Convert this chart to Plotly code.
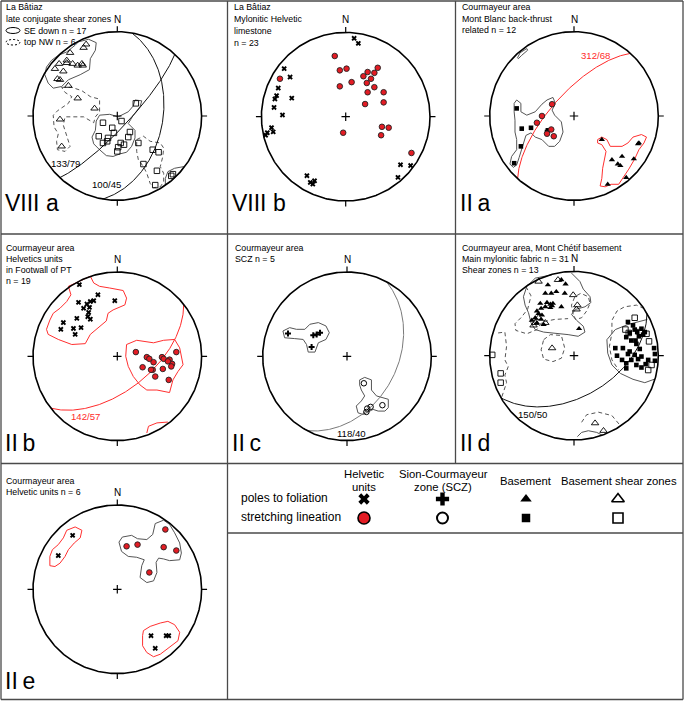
import numpy as np
import plotly.graph_objects as go

W, H = 685, 701
FONT = "Liberation Sans, Arial, Helvetica, sans-serif"

# ---------------- DATA: equal-area lower-hemisphere net, (east, north) on unit primitive ----------------
# Panel VIII a  (La Bâtiaz, late conjugate shear zones)
VIIIA_OTRI = [(-0.37, 0.85), (-0.40, 0.81), (-0.56, 0.75), (-0.60, 0.66), (-0.60, 0.63), (-0.69, 0.62),
              (-0.53, 0.62), (-0.47, 0.60), (-0.42, 0.62), (-0.41, 0.60), (-0.74, 0.56), (-0.64, 0.53),
              (-0.71, 0.44), (-0.68, 0.43), (-0.58, 0.36), (-0.47, 0.21), (-0.27, 0.09), (-0.68, -0.04),
              (-0.66, -0.36)]
VIIIA_OSQ = [(0.22, 0.15), (0.05, -0.06), (-0.06, -0.14), (-0.17, -0.08), (-0.22, -0.24), (-0.11, -0.26),
             (-0.04, -0.20), (-0.17, -0.32), (-0.12, -0.30), (0.04, -0.32), (0.01, -0.37), (0.08, -0.34),
             (0.00, -0.42), (0.13, -0.25), (0.15, -0.19), (0.25, -0.32), (0.42, -0.40), (0.49, -0.43),
             (0.31, -0.57), (0.47, -0.65), (0.45, -0.82), (0.64, -0.71), (0.66, -0.69)]
VIIIA_SE_1 = [(-0.46, 0.88), (-0.34, 0.91), (-0.25, 0.87), (-0.26, 0.78), (-0.32, 0.68), (-0.33, 0.55),
              (-0.44, 0.49), (-0.58, 0.43), (-0.66, 0.35), (-0.76, 0.33), (-0.82, 0.39), (-0.86, 0.49),
              (-0.84, 0.58), (-0.78, 0.66), (-0.70, 0.72), (-0.60, 0.76), (-0.50, 0.84)]
VIIIA_SE_2 = [(-0.25, -0.06), (-0.21, 0.01), (-0.09, 0.02), (0.01, -0.01), (0.13, 0.05), (0.19, 0.12),
              (0.21, 0.19), (0.29, 0.18), (0.27, 0.11), (0.19, 0.01), (0.13, -0.09), (0.21, -0.17),
              (0.21, -0.26), (0.17, -0.36), (0.11, -0.43), (0.03, -0.45), (-0.05, -0.48), (-0.13, -0.47),
              (-0.21, -0.40), (-0.28, -0.33), (-0.30, -0.25), (-0.26, -0.17)]
VIIIA_SE_3 = [(0.57, -0.74), (0.60, -0.66), (0.68, -0.62), (0.79, -0.60), (0.72, -0.69), (0.64, -0.77),
              (0.57, -0.82)]
VIIIA_NW_1 = [(-0.66, 0.34), (-0.54, 0.34), (-0.42, 0.30), (-0.32, 0.23), (-0.21, 0.20), (-0.21, 0.05),
              (-0.26, -0.01), (-0.28, -0.08), (-0.40, -0.01), (-0.62, -0.01), (-0.64, -0.11), (-0.60, -0.25),
              (-0.56, -0.36), (-0.62, -0.42), (-0.71, -0.40), (-0.72, -0.30), (-0.70, -0.21), (-0.75, -0.13),
              (-0.76, 0.01), (-0.70, 0.07), (-0.58, 0.15), (-0.54, 0.23), (-0.62, 0.28)]
VIIIA_NW_2 = [(0.23, -0.28), (0.31, -0.24), (0.39, -0.30), (0.51, -0.32), (0.55, -0.38), (0.54, -0.48),
              (0.51, -0.60), (0.55, -0.68), (0.55, -0.78), (0.51, -0.84), (0.43, -0.85), (0.39, -0.80),
              (0.35, -0.68), (0.31, -0.60), (0.25, -0.52), (0.23, -0.42)]
VIIIA_PLANES = [(133, 79), (100, 45)]

# Panel VIII b  (La Bâtiaz, mylonitic Helvetic limestone)
VIIIB_POLES = [(0.10, 0.93), (0.15, 0.87), (-0.73, 0.57), (-0.66, 0.47), (-0.80, 0.34), (-0.82, 0.25),
               (-0.84, 0.21), (-0.64, 0.22), (-0.85, 0.11), (-0.75, 0.02), (-0.88, -0.13), (-0.86, -0.18),
               (-0.93, -0.19), (-0.95, -0.22), (-0.46, -0.70), (-0.42, -0.78), (-0.39, -0.80), (-0.37, -0.76),
               (0.65, -0.57), (0.77, -0.58), (0.62, -0.72)]
VIIIB_LIN = [(-0.13, 0.72), (-0.07, 0.55), (0.01, 0.57), (-0.07, 0.36), (0.07, 0.41), (-0.78, 0.45),
             (0.26, 0.53), (0.34, 0.52), (0.38, 0.58), (0.21, 0.48), (0.30, 0.45), (0.25, 0.40),
             (0.34, 0.35), (0.26, 0.29), (0.45, 0.29), (0.45, 0.17), (0.23, 0.15), (0.43, -0.12),
             (0.51, -0.13), (0.42, -0.22), (-0.03, -0.19), (0.78, -0.43)]

# Panel II a  (Courmayeur, Mont Blanc back-thrust related)
IIA_SQ = [(-0.68, 0.09), (-0.62, -0.15), (-0.51, -0.14), (-0.63, -0.36), (-0.71, -0.56), (-0.31, -0.17),
          (-0.32, -0.19)]
IIA_LIN = [(-0.26, 0.14), (-0.38, 0.00), (-0.44, -0.08), (-0.27, -0.16), (-0.32, -0.21), (-0.24, -0.24)]
IIA_TRI = [(0.33, -0.28), (0.45, -0.52), (0.71, -0.51), (0.52, -0.57), (0.55, -0.59), (0.40, -0.81),
           (0.62, -0.73), (0.57, -0.48), (0.76, -0.33), (0.77, -0.32)]
IIA_C1 = [(-0.71, 0.15), (-0.68, 0.19), (-0.63, 0.15), (-0.63, 0.05), (-0.56, 0.01), (-0.46, 0.05),
          (-0.38, 0.14), (-0.32, 0.19), (-0.25, 0.22), (-0.22, 0.15), (-0.26, 0.07), (-0.23, 0.01),
          (-0.15, -0.07), (-0.13, -0.19), (-0.17, -0.30), (-0.23, -0.36), (-0.30, -0.36), (-0.38, -0.28),
          (-0.46, -0.25), (-0.51, -0.20), (-0.57, -0.23), (-0.59, -0.30), (-0.62, -0.40), (-0.65, -0.49),
          (-0.68, -0.58), (-0.72, -0.61), (-0.76, -0.57), (-0.74, -0.48), (-0.68, -0.40), (-0.68, -0.28),
          (-0.70, -0.19), (-0.70, -0.05), (-0.71, 0.05)]
IIA_C2 = [(0.28, -0.28), (0.33, -0.25), (0.39, -0.28), (0.43, -0.36), (0.57, -0.36), (0.64, -0.32),
          (0.70, -0.25), (0.80, -0.22), (0.86, -0.25), (0.83, -0.32), (0.77, -0.40), (0.72, -0.51),
          (0.65, -0.63), (0.58, -0.74), (0.53, -0.81), (0.44, -0.81), (0.37, -0.84), (0.31, -0.83),
          (0.33, -0.74), (0.34, -0.62), (0.36, -0.51), (0.38, -0.42), (0.33, -0.34), (0.28, -0.32)]
IIA_C3 = [(-0.67, 0.69), (-0.64, 0.75), (-0.56, 0.80), (-0.55, 0.78), (-0.62, 0.72), (-0.66, 0.68)]
IIA_PLANES = [(312, 68)]

# Panel II b  (Courmayeur, Helvetic units in footwall of PT)
IIB_POLES = [(-0.45, 0.85), (-0.23, 0.73), (-0.03, 0.66), (-0.46, 0.64), (-0.36, 0.62), (-0.32, 0.65),
             (-0.28, 0.66), (-0.40, 0.57), (-0.33, 0.58), (-0.34, 0.52), (-0.35, 0.47), (-0.32, 0.44),
             (-0.48, 0.45), (-0.64, 0.40), (-0.67, 0.32), (-0.52, 0.33), (-0.43, 0.34), (-0.50, 0.26)]
IIB_LIN = [(0.22, 0.05), (0.35, -0.01), (0.38, -0.03), (0.53, -0.01), (0.55, -0.03), (0.62, -0.04),
           (0.65, -0.09), (0.70, 0.05), (0.64, -0.12), (0.43, -0.07), (0.42, -0.16), (0.40, -0.16),
           (0.30, -0.13), (0.54, -0.15), (0.45, -0.24), (0.61, -0.28), (0.60, -0.06)]
IIB_C1 = [(-0.58, 0.83), (-0.47, 0.88), (-0.32, 0.95), (-0.28, 0.87), (-0.21, 0.83), (-0.09, 0.81),
          (0.07, 0.78), (0.11, 0.69), (0.09, 0.61), (-0.05, 0.55), (-0.11, 0.51), (-0.13, 0.42),
          (-0.23, 0.34), (-0.32, 0.26), (-0.38, 0.15), (-0.54, 0.14), (-0.70, 0.20), (-0.82, 0.26),
          (-0.84, 0.32), (-0.80, 0.43), (-0.76, 0.51), (-0.68, 0.57), (-0.60, 0.65), (-0.55, 0.73)]
IIB_C2 = [(0.11, 0.14), (0.23, 0.19), (0.43, 0.16), (0.55, 0.19), (0.68, 0.20), (0.74, 0.10),
          (0.78, -0.10), (0.72, -0.18), (0.66, -0.28), (0.62, -0.43), (0.47, -0.40), (0.35, -0.40),
          (0.27, -0.34), (0.19, -0.24), (0.13, -0.12), (0.10, 0.00)]
IIB_C3 = [(0.35, -0.91), (0.37, -0.83), (0.47, -0.79), (0.60, -0.78)]
IIB_PLANES = [(142, 57)]

# Panel II c  (Courmayeur, SCZ)
IIC_POLES = [(-0.70, 0.27), (-0.40, 0.25), (-0.36, 0.26), (-0.32, 0.28), (-0.42, 0.11)]
IIC_LIN = [(0.20, -0.32), (0.42, -0.58), (0.28, -0.60), (0.24, -0.62), (0.23, -0.66)]
IIC_C1 = [(-0.76, 0.30), (-0.68, 0.34), (-0.60, 0.32), (-0.50, 0.32), (-0.44, 0.38), (-0.34, 0.40),
          (-0.25, 0.36), (-0.21, 0.28), (-0.25, 0.20), (-0.34, 0.16), (-0.38, 0.05), (-0.46, 0.05),
          (-0.48, 0.14), (-0.52, 0.20), (-0.62, 0.21), (-0.74, 0.22)]
IIC_C2 = [(0.15, -0.28), (0.21, -0.25), (0.29, -0.28), (0.29, -0.40), (0.35, -0.47), (0.43, -0.49),
          (0.49, -0.51), (0.49, -0.61), (0.45, -0.65), (0.37, -0.65), (0.31, -0.63), (0.25, -0.66),
          (0.19, -0.69), (0.13, -0.67), (0.11, -0.59), (0.17, -0.53), (0.21, -0.47), (0.17, -0.40),
          (0.15, -0.34)]
IIC_PLANES = [(118, 40)]

# Panel II d  (Courmayeur, Mont Chétif basement)
IID_TRI = [(-0.15, 0.90), (-0.10, 0.85), (-0.31, 0.84), (-0.34, 0.74), (-0.27, 0.74), (-0.21, 0.76),
           (-0.11, 0.74), (-0.40, 0.62), (-0.32, 0.63), (-0.28, 0.61), (-0.25, 0.62), (-0.34, 0.58),
           (-0.28, 0.57), (-0.26, 0.59), (-0.15, 0.58), (-0.44, 0.53), (-0.42, 0.50), (-0.38, 0.48),
           (-0.46, 0.45), (-0.39, 0.43), (-0.44, 0.39), (-0.36, 0.37), (-0.50, 0.42), (-0.39, 0.56),
           (0.06, 0.32)]
IID_OTRI = [(-0.42, 0.88), (-0.19, 0.90), (-0.01, 0.72), (0.04, 0.60), (0.03, 0.55), (-0.42, 0.45),
            (-0.46, 0.39), (-0.26, 0.09), (0.25, -0.80), (0.35, -0.89), (-0.34, 0.39), (-0.48, 0.36)]
IID_SQ = [(0.64, 0.40), (0.70, 0.36), (0.72, 0.31), (0.75, 0.28), (0.80, 0.32), (0.84, 0.28),
          (0.82, 0.25), (0.77, 0.23), (0.66, 0.27), (0.62, 0.22), (0.68, 0.18), (0.73, 0.18),
          (0.74, 0.14), (0.78, 0.08), (0.66, 0.05), (0.64, 0.02), (0.72, 0.01), (0.80, -0.01),
          (0.76, -0.04), (0.68, -0.05), (0.58, 0.09), (0.49, 0.09), (0.51, 0.00), (0.57, -0.05),
          (0.62, -0.09), (0.62, -0.15), (0.74, -0.11), (0.80, -0.14), (0.95, 0.09), (0.96, 0.02),
          (0.88, -0.05), (0.85, -0.10), (0.96, -0.06)]
IID_OSQ = [(0.72, 0.45), (0.61, 0.31), (0.65, 0.27), (0.78, 0.28), (0.86, 0.26), (0.89, 0.17),
           (0.92, -0.11), (0.88, -0.17), (-0.97, 0.01), (-0.87, -0.21), (-0.87, -0.32)]
IID_MAIN_1 = [(-0.03, 0.98), (0.07, 0.88), (0.11, 0.79), (0.19, 0.70), (0.20, 0.63), (0.13, 0.58),
              (0.02, 0.55), (-0.03, 0.49), (0.03, 0.42), (0.11, 0.35), (0.13, 0.28), (0.05, 0.23),
              (-0.07, 0.25), (-0.23, 0.27), (-0.36, 0.28), (-0.46, 0.31), (-0.51, 0.39), (-0.54, 0.51),
              (-0.58, 0.60), (-0.60, 0.70), (-0.56, 0.82), (-0.46, 0.92), (-0.26, 0.96)]
IID_MAIN_2 = [(0.87, 0.43), (0.80, 0.41), (0.64, 0.37), (0.49, 0.31), (0.39, 0.19), (0.40, 0.03),
              (0.45, -0.11), (0.55, -0.21), (0.70, -0.28), (0.84, -0.32), (0.95, -0.28)]
IID_MAIN_3 = [(0.04, -0.96), (0.09, -0.91), (0.17, -0.89), (0.27, -0.91), (0.33, -0.94)]
IID_SZ_1 = [(-0.57, 0.82), (-0.51, 0.71), (-0.55, 0.55), (-0.63, 0.45), (-0.70, 0.38), (-0.69, 0.30),
            (-0.56, 0.26), (-0.44, 0.31), (-0.38, 0.40), (-0.23, 0.43), (-0.07, 0.44)]
IID_SZ_2 = [(-0.01, 0.49), (-0.03, 0.60), (0.01, 0.70), (0.08, 0.74), (0.17, 0.70), (0.19, 0.62),
            (0.15, 0.53), (0.09, 0.45), (0.02, 0.43)]
IID_SZ_3 = [(-0.36, 0.19), (-0.28, 0.25), (-0.15, 0.24), (-0.11, 0.09), (-0.15, -0.03), (-0.25, -0.07),
            (-0.36, -0.04), (-0.39, 0.07)]
IID_SZ_4 = [(-0.90, 0.27), (-0.82, 0.28), (-0.80, 0.11), (-0.82, -0.05), (-0.78, -0.13), (-0.82, -0.23),
            (-0.80, -0.32), (-0.83, -0.42), (-0.86, -0.50)]
IID_SZ_5 = [(0.83, 0.56), (0.74, 0.60), (0.60, 0.58), (0.51, 0.53), (0.45, 0.42), (0.45, 0.27),
            (0.42, 0.11), (0.45, -0.05), (0.53, -0.17)]
IID_SZ_6 = [(0.09, -0.79), (0.15, -0.70), (0.29, -0.67), (0.45, -0.71), (0.55, -0.83)]
IID_PLANES = [(150, 50)]

# Panel II e  (Courmayeur, Helvetic units)
IIE_POLES = [(-0.53, 0.64), (-0.70, 0.40), (0.40, -0.55), (0.58, -0.55), (0.61, -0.55), (0.45, -0.70)]
IIE_LIN = [(0.57, 0.71), (0.11, 0.51), (0.24, 0.53), (0.55, 0.50), (0.70, 0.46), (0.38, 0.20)]
IIE_C1 = [(-0.80, 0.39), (-0.77, 0.47), (-0.70, 0.53), (-0.64, 0.61), (-0.60, 0.70), (-0.50, 0.74),
          (-0.42, 0.70), (-0.44, 0.61), (-0.51, 0.55), (-0.58, 0.47), (-0.62, 0.39), (-0.68, 0.31),
          (-0.74, 0.27), (-0.80, 0.28)]
IIE_C2 = [(0.02, 0.56), (0.06, 0.62), (0.17, 0.64), (0.24, 0.60), (0.35, 0.59), (0.42, 0.65),
          (0.45, 0.78), (0.55, 0.82), (0.62, 0.77), (0.68, 0.67), (0.74, 0.55), (0.76, 0.43),
          (0.74, 0.35), (0.62, 0.34), (0.55, 0.36), (0.49, 0.37), (0.46, 0.32), (0.47, 0.20),
          (0.43, 0.10), (0.35, 0.08), (0.27, 0.14), (0.29, 0.28), (0.32, 0.35), (0.23, 0.38),
          (0.13, 0.39), (0.05, 0.45)]
IIE_C3 = [(0.31, -0.49), (0.39, -0.44), (0.51, -0.40), (0.60, -0.38), (0.68, -0.42), (0.74, -0.51),
          (0.72, -0.61), (0.62, -0.69), (0.51, -0.77), (0.43, -0.80), (0.35, -0.75), (0.30, -0.67),
          (0.30, -0.55)]

# ---------------- styles ----------------
MK = {
    "pole_h": dict(symbol="x", size=4.8, color="black", line=dict(width=0)),
    "lin_h": dict(symbol="circle", size=5.6, color="#e31c24", line=dict(color="#222", width=0.9)),
    "pole_s": dict(symbol="cross", size=5, color="black", line=dict(width=0)),
    "lin_s": dict(symbol="circle-open", size=5.5, color="black", line=dict(color="black", width=1)),
    "pole_b": dict(symbol="triangle-up", size=5.5, color="black", line=dict(width=0)),
    "lin_b": dict(symbol="square", size=4.6, color="black", line=dict(width=0)),
    "pole_bs": dict(symbol="triangle-up-open", size=6.5, color="black", line=dict(color="black", width=0.9)),
    "lin_bs": dict(symbol="square-open", size=5.5, color="black", line=dict(color="black", width=0.9)),
}
LN = {
    "g": dict(color="#555555", width=1),
    "gd": dict(color="#555555", width=1, dash="4px,3px"),
    "r": dict(color="#ff3030", width=1),
}
GC = {"k": dict(color="#111111", width=1), "gray": dict(color="#7a7a7a", width=1),
      "r": dict(color="#ff2a2a", width=1)}
R = 84.3
K = 1.16
HEAD_FS = 8.8

PANELS = [
    dict(cx=117.3, cy=116.0, label="VIII a", ly=203.3,
         head=[("La Bâtiaz", 4, 7), ("late conjugate shear zones", 4, 19), ("SE down n = 17", 22, 31),
               ("top NW n = 6", 22, 42)],
         pts=[(VIIIA_OTRI, "pole_bs"), (VIIIA_OSQ, "lin_bs")],
         cont=[(VIIIA_SE_1, "g", True), (VIIIA_SE_2, "g", True), (VIIIA_SE_3, "g", True),
               (VIIIA_NW_1, "gd", True), (VIIIA_NW_2, "gd", True)],
         planes=[(VIIIA_PLANES[0], "k", "133/79", 65, 163.3, "black"),
                 (VIIIA_PLANES[1], "k", "100/45", 106.7, 185, "black")]),
    dict(cx=345.7, cy=116.7, label="VIII b", ly=203.3,
         head=[("La Bâtiaz", 232, 7), ("Mylonitic Helvetic", 232, 19), ("limestone", 232, 31),
               ("n = 23", 232, 43)],
         pts=[(VIIIB_POLES, "pole_h"), (VIIIB_LIN, "lin_h")], cont=[], planes=[]),
    dict(cx=574.0, cy=116.0, label="II\u2009a", ly=203.3,
         head=[("Courmayeur area", 460, 7.3), ("Mont Blanc back-thrust", 460, 18.5), ("related n = 12", 460, 30)],
         pts=[(IIA_SQ, "lin_b"), (IIA_LIN, "lin_h"), (IIA_TRI, "pole_b")],
         cont=[(IIA_C1, "g", True), (IIA_C2, "r", True), (IIA_C3, "g", True)],
         planes=[(IIA_PLANES[0], "r", "312/68", 595, 55, "#ff2a2a")]),
    dict(cx=117.3, cy=356.3, label="II\u2009b", ly=443,
         head=[("Courmayeur area", 4, 248), ("Helvetics units", 4, 259), ("in Footwall of PT", 4, 270),
               ("n = 19", 4, 281)],
         pts=[(IIB_POLES, "pole_h"), (IIB_LIN, "lin_h")],
         cont=[(IIB_C1, "r", True), (IIB_C2, "r", True), (IIB_C3, "r", False)],
         planes=[(IIB_PLANES[0], "r", "142/57", 85, 416.3, "#ff2a2a")]),
    dict(cx=347.0, cy=356.3, label="II\u2009c", ly=443,
         head=[("Courmayeur area", 233, 248), ("SCZ n = 5", 233, 258.5)],
         pts=[(IIC_POLES, "pole_s"), (IIC_LIN, "lin_s")],
         cont=[(IIC_C1, "g", True), (IIC_C2, "g", True)],
         planes=[(IIC_PLANES[0], "gray", "118/40", 351.3, 433, "black")]),
    dict(cx=574.0, cy=355.7, label="II\u2009d", ly=443,
         head=[("Courmayeur area, Mont Chétif basement", 460, 248), ("Main mylonitic fabric n = 31", 460, 258.7),
               ("Shear zones n = 13", 460, 269.7)],
         pts=[(IID_TRI, "pole_b"), (IID_SQ, "lin_b"), (IID_OTRI, "pole_bs"), (IID_OSQ, "lin_bs")],
         cont=[(IID_MAIN_1, "g", False), (IID_MAIN_2, "g", False), (IID_MAIN_3, "g", False),
               (IID_SZ_1, "gd", False), (IID_SZ_2, "gd", True), (IID_SZ_3, "gd", True),
               (IID_SZ_4, "gd", False), (IID_SZ_5, "gd", False), (IID_SZ_6, "gd", False)],
         planes=[(IID_PLANES[0], "k", "150/50", 532.3, 414.7, "black")]),
    dict(cx=117.3, cy=589.3, label="II\u2009e", ly=680.7,
         head=[("Courmayeur area", 4, 481), ("Helvetic units n = 6", 4, 491.7)],
         pts=[(IIE_POLES, "pole_h"), (IIE_LIN, "lin_h")],
         cont=[(IIE_C1, "r", True), (IIE_C2, "g", True), (IIE_C3, "r", True)],
         planes=[]),
]


def pxx(x):
    return x / W


def pyy(y):
    return 1 - y / H


def great_circle(dd, dip):
    a = np.radians(np.linspace(0, 180, 241))
    s = np.radians(dd - 90)
    d = np.radians(dd)
    dp = np.radians(dip)
    vE = np.cos(a) * np.sin(s) + np.sin(a) * np.sin(d) * np.cos(dp)
    vN = np.cos(a) * np.cos(s) + np.sin(a) * np.cos(d) * np.cos(dp)
    vD = np.sin(a) * np.sin(dp)
    trend = np.arctan2(vE, vN)
    plunge = np.arcsin(np.clip(vD, -1, 1))
    r = np.sqrt(2) * np.sin((np.pi / 2 - plunge) / 2)
    return r * np.sin(trend), r * np.cos(trend)


fig = go.Figure()
ann = []
shapes = []
layout_axes = {}
th = np.linspace(0, 2 * np.pi, 361)

for i, p in enumerate(PANELS, start=1):
    xa = "x" if i == 1 else f"x{i}"
    ya = "y" if i == 1 else f"y{i}"
    xkey = "xaxis" if i == 1 else f"xaxis{i}"
    ykey = "yaxis" if i == 1 else f"yaxis{i}"
    cx, cy = p["cx"], p["cy"]
    layout_axes[xkey] = dict(domain=[pxx(cx - K * R), pxx(cx + K * R)], range=[-K, K], visible=False,
                             anchor=ya, fixedrange=True)
    layout_axes[ykey] = dict(domain=[pyy(cy + K * R), pyy(cy - K * R)], range=[-K, K], visible=False,
                             anchor=xa, fixedrange=True)
    for pts, st, closed in p["cont"]:
        xs = [q[0] for q in pts]
        ys = [q[1] for q in pts]
        if closed:
            xs.append(xs[0]); ys.append(ys[0])
        fig.add_trace(go.Scatter(x=xs, y=ys, mode="lines", line=LN[st], xaxis=xa, yaxis=ya,
                                 showlegend=False, hoverinfo="skip"))
    for (dd, dip), st, txt, tx, ty, tc in p["planes"]:
        gx, gy = great_circle(dd, dip)
        fig.add_trace(go.Scatter(x=gx, y=gy, mode="lines", line=GC[st], xaxis=xa, yaxis=ya,
                                 showlegend=False, hoverinfo="skip"))
        ann.append(dict(x=pxx(tx), y=pyy(ty), xref="paper", yref="paper", text=txt, showarrow=False,
                        font=dict(family=FONT, size=9.6, color=tc), xanchor="center", yanchor="middle"))
    fig.add_trace(go.Scatter(x=np.cos(th), y=np.sin(th), mode="lines", line=dict(color="black", width=1.6),
                             xaxis=xa, yaxis=ya, showlegend=False, hoverinfo="skip"))
    t = 1.065
    fig.add_trace(go.Scatter(x=[0, 0, None, 0, 0, None, 1, t, None, -1, -t, None, -0.05, 0.05, None, 0, 0],
                             y=[1, t, None, -1, -t, None, 0, 0, None, 0, 0, None, 0, 0, None, -0.05, 0.05],
                             mode="lines", line=dict(color="black", width=1.2), xaxis=xa, yaxis=ya,
                             showlegend=False, hoverinfo="skip"))
    for pts, st in p["pts"]:
        fig.add_trace(go.Scatter(x=[q[0] for q in pts], y=[q[1] for q in pts], mode="markers",
                                 marker=MK[st], xaxis=xa, yaxis=ya, showlegend=False, hoverinfo="skip",
                                 cliponaxis=False))
    ann.append(dict(x=pxx(cx), y=pyy(cy - R - 12.5), xref="paper", yref="paper", text="N", showarrow=False,
                    font=dict(family=FONT, size=10, color="black"), xanchor="center", yanchor="middle"))
    for txt, hx, hy in p["head"]:
        ann.append(dict(x=pxx(hx), y=pyy(hy), xref="paper", yref="paper", text=txt, showarrow=False,
                        font=dict(family=FONT, size=HEAD_FS, color="black"), xanchor="left", yanchor="middle"))
    col_left = 1 if cx < 227 else (228 if cx < 455 else 455.5)
    ann.append(dict(x=pxx(col_left + 2), y=pyy(p["ly"]), xref="paper", yref="paper", text=p["label"],
                    showarrow=False, font=dict(family=FONT, size=23, color="black"),
                    xanchor="left", yanchor="middle"))

# header icons (VIII a legend ellipses)
shapes.append(dict(type="circle", xref="paper", yref="paper", x0=pxx(6), x1=pxx(20), y0=pyy(33.5), y1=pyy(27.5),
                   line=dict(color="black", width=1)))
shapes.append(dict(type="circle", xref="paper", yref="paper", x0=pxx(6), x1=pxx(20), y0=pyy(45), y1=pyy(39.5),
                   line=dict(color="black", width=1, dash="2px,2px")))

FR = dict(color="#4a4a4a", width=1.3)
for x0, y0, x1, y1 in [(1, 1, 683, 1), (1, 699.5, 683, 699.5), (1, 1, 1, 699.5), (683, 1, 683, 699.5),
                       (227.5, 1, 227.5, 699.5), (455.5, 1, 455.5, 463.5), (1, 234, 683, 234),
                       (1, 463.5, 683, 463.5), (227.5, 533, 683, 533)]:
    shapes.append(dict(type="line", xref="paper", yref="paper", x0=pxx(x0), x1=pxx(x1), y0=pyy(y0), y1=pyy(y1),
                       line=FR))

# ---------------- legend block ----------------
LEG_ROWS = ["poles to foliation", "stretching lineation"]
LEG_KEYS = [("pole_h", "lin_h"), ("pole_s", "lin_s"), ("pole_b", "lin_b"), ("pole_bs", "lin_bs")]
col_x = [364, 442.5, 526, 618]
row_y = [499, 518]
head_lines = [[("Helvetic", 474.3), ("units", 486.7)], [("Sion-Courmayeur", 474), ("zone (SCZ)", 487)],
              [("Basement", 481)], [("Basement shear zones", 481)]]
hx_centre = [364, 443, 526, 619]
for ci, lines in enumerate(head_lines):
    for txt, yy in lines:
        ann.append(dict(x=pxx(hx_centre[ci]), y=pyy(yy), xref="paper", yref="paper", text=txt, showarrow=False,
                        font=dict(family=FONT, size=11.3, color="black"), xanchor="center", yanchor="middle"))
for ri, txt in enumerate(LEG_ROWS):
    ann.append(dict(x=pxx(239), y=pyy(row_y[ri] - 1), xref="paper", yref="paper", text=txt, showarrow=False,
                    font=dict(family=FONT, size=12, color="black"), xanchor="left", yanchor="middle"))

BIG = {
    "pole_h": dict(symbol="x", size=10, color="black", line=dict(width=0)),
    "lin_h": dict(symbol="circle", size=12, color="#e31c24", line=dict(color="black", width=1.6)),
    "pole_s": dict(symbol="cross", size=11, color="black", line=dict(width=0)),
    "lin_s": dict(symbol="circle-open", size=11, color="black", line=dict(color="black", width=2)),
    "pole_b": dict(symbol="triangle-up", size=10, color="black", line=dict(width=0)),
    "lin_b": dict(symbol="square", size=8.5, color="black", line=dict(width=0)),
    "pole_bs": dict(symbol="triangle-up-open", size=11, color="black", line=dict(color="black", width=1.6)),
    "lin_bs": dict(symbol="square-open", size=10, color="black", line=dict(color="black", width=1.6)),
}
n = len(PANELS) + 1
layout_axes[f"xaxis{n}"] = dict(domain=[0, 1], range=[0, W], visible=False, anchor=f"y{n}", fixedrange=True)
layout_axes[f"yaxis{n}"] = dict(domain=[0, 1], range=[H, 0], visible=False, anchor=f"x{n}", fixedrange=True)
for ci, (kp, kl) in enumerate(LEG_KEYS):
    for ri, key in enumerate((kp, kl)):
        fig.add_trace(go.Scatter(x=[col_x[ci]], y=[row_y[ri]], mode="markers", marker=BIG[key],
                                 xaxis=f"x{n}", yaxis=f"y{n}", showlegend=False, hoverinfo="skip"))

fig.update_layout(width=W, height=H, margin=dict(l=0, r=0, t=0, b=0), paper_bgcolor="white",
                  plot_bgcolor="rgba(0,0,0,0)", showlegend=False, annotations=ann, shapes=shapes,
                  **layout_axes)
fig.write_html("out.html", config={"displayModeBar": False},
               post_script="document.body.style.margin='0px';document.body.style.overflow='hidden';")
